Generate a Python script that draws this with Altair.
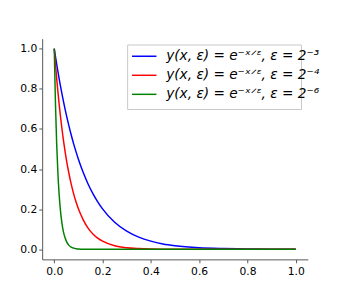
import altair as alt
import pandas as pd

x_vals = [0, 0.005, 0.01, 0.015, 0.02, 0.025, 0.03, 0.035, 0.04, 0.05, 0.06, 0.07, 0.08, 0.09, 0.1,
          0.12, 0.14, 0.16, 0.18, 0.2, 0.25, 0.3, 0.35, 0.4, 0.45, 0.5, 0.6, 0.7, 0.8, 0.9, 1.0]

y_eps3 = [1.0, 0.961, 0.923, 0.887, 0.852, 0.819, 0.787, 0.756, 0.726, 0.670, 0.619, 0.571, 0.527, 0.487, 0.449,
          0.383, 0.326, 0.278, 0.237, 0.202, 0.135, 0.091, 0.061, 0.041, 0.027, 0.018, 0.008, 0.004, 0.002, 0.001, 0.0003]
y_eps4 = [1.0, 0.923, 0.852, 0.787, 0.726, 0.670, 0.619, 0.571, 0.527, 0.449, 0.383, 0.326, 0.278, 0.237, 0.202,
          0.147, 0.106, 0.077, 0.056, 0.041, 0.018, 0.008, 0.004, 0.002, 0.001, 0.0003, 0.0, 0.0, 0.0, 0.0, 0.0]
y_eps6 = [1.0, 0.726, 0.527, 0.383, 0.278, 0.202, 0.147, 0.106, 0.077, 0.041, 0.021, 0.011, 0.006, 0.003, 0.002,
          0.0005, 0.0, 0.0, 0.0, 0.0, 0.0, 0.0, 0.0, 0.0, 0.0, 0.0, 0.0, 0.0, 0.0, 0.0, 0.0]

labels = ["y(x, ε) = e⁻ˣᐟᵋ, ε = 2⁻³", "y(x, ε) = e⁻ˣᐟᵋ, ε = 2⁻⁴", "y(x, ε) = e⁻ˣᐟᵋ, ε = 2⁻⁶"]
colors = ["#0000ff", "#ff0000", "#008000"]
x_ticks = [0.0, 0.2, 0.4, 0.6, 0.8, 1.0]
y_ticks = [0.0, 0.2, 0.4, 0.6, 0.8, 1.0]

rows = []
for lab, ys in zip(labels, [y_eps3, y_eps4, y_eps6]):
    for xv, yv in zip(x_vals, ys):
        rows.append({"x": xv, "y": yv, "series": lab})
df = pd.DataFrame(rows)
leg_df = pd.DataFrame({"series": labels, "i": list(range(len(labels)))})

color_scale = alt.Scale(domain=labels, range=colors)

lines = alt.Chart(df).mark_line(strokeWidth=1.5, interpolate="monotone").encode(
    x=alt.X("x:Q", scale=alt.Scale(domain=[-0.05, 1.05], nice=False, zero=False),
            axis=alt.Axis(values=x_ticks, format=".1f", title=None)),
    y=alt.Y("y:Q", scale=alt.Scale(domain=[-0.05, 1.05], nice=False, zero=False),
            axis=alt.Axis(values=y_ticks, format=".1f", title=None)),
    color=alt.Color("series:N", scale=color_scale, legend=None),
)

# legend frame (left, right, top, bottom in plot pixels, on half pixels for crisp 1px edges)
BL, BR, BT, BB = 87.5, 265.5, 6.5, 72.5
one = alt.Chart(leg_df).transform_filter("datum.i == 0")
frame_fill = one.mark_rect(fill="white", opacity=0.85).encode(
    x=alt.value(BL), x2=alt.value(BR), y=alt.value(BT), y2=alt.value(BB))
edge_style = dict(color="#c8c8c8", strokeWidth=1)
top_edge = one.mark_rule(**edge_style).encode(x=alt.value(BL), x2=alt.value(BR), y=alt.value(BT))
bot_edge = one.mark_rule(**edge_style).encode(x=alt.value(BL), x2=alt.value(BR), y=alt.value(BB))
left_edge = one.mark_rule(**edge_style).encode(x=alt.value(BL), y=alt.value(BT), y2=alt.value(BB))
right_edge = one.mark_rule(**edge_style).encode(x=alt.value(BR), y=alt.value(BT), y2=alt.value(BB))

base = alt.Chart(leg_df).transform_calculate(ry="18 + datum.i * 19.5")

sym = base.mark_rule(strokeWidth=1.5).encode(
    x=alt.value(92), x2=alt.value(117),
    y=alt.Y("ry:Q", scale=None),
    color=alt.Color("series:N", scale=color_scale, legend=None),
)

txt = base.mark_text(align="left", baseline="middle", font="DejaVu Sans", fontStyle="italic",
                     fontSize=14, color="black").encode(
    x=alt.value(127),
    y=alt.Y("ry:Q", scale=None),
    text="series:N",
)

chart = alt.layer(lines, frame_fill, top_edge, bot_edge, left_edge, right_edge, sym, txt).properties(
    width=272, height=226,
    autosize=alt.AutoSizeParams(type="none"),
    padding={"left": 35, "top": 28, "right": 35, "bottom": 30},
).configure_view(stroke=None).configure_axis(
    grid=False, domainColor="#555555", tickColor="#555555", tickSize=3.5,
    labelFont="DejaVu Sans", labelFontSize=11, labelColor="black", labelPadding=3,
    domainWidth=1, tickWidth=1,
).configure_axisY(labelPadding=2)

chart.save("out.html", embed_options={"renderer": "svg", "actions": False})
